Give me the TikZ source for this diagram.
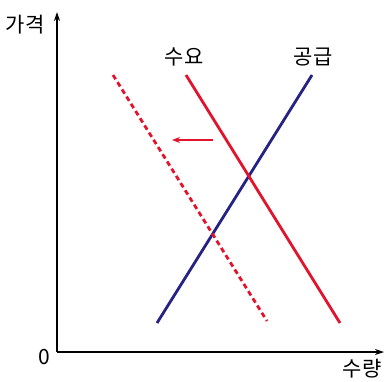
\documentclass[tikz,border=0pt]{standalone}
\usepackage{fontspec}
\setmainfont{Noto Sans CJK KR}
\usepackage{xcolor}
\usetikzlibrary{arrows.meta}
\definecolor{dred}{RGB}{226,20,45}
\definecolor{sblue}{RGB}{36,34,130}
\begin{document}
\begin{tikzpicture}[x=1pt,y=-1pt]
\useasboundingbox (0,0) rectangle (387,381);
\tikzset{axis/.style={line width=1.3pt,-{Stealth[length=9pt,width=6pt]}},
  lbl/.style={font=\fontsize{21}{21}\selectfont,inner sep=0pt}}
% axes
\coordinate (O) at (57,352);
\coordinate (ytop) at (57,12);
\coordinate (xend) at (384,352);
\draw[axis] (O)--(ytop);
\draw[axis] (O)--(xend);
\node[lbl] (price) at (25,25) {가격};
\node[lbl] (zero) at (44,357) {0};
\node[lbl] (qty) at (362,369) {수량};
% curves
\coordinate (d1) at (186,75);
\coordinate (d2) at (340,323);
\coordinate (s1) at (157,323);
\coordinate (s2) at (312,75);
\coordinate (n1) at (113,75);
\coordinate (n2) at (267,321);
\draw[sblue,line width=2.8pt] (s1)--(s2);
\draw[dred,line width=2.8pt] (d1)--(d2);
\draw[dred,line width=2.8pt,dash pattern=on 5pt off 3.5pt] (n1)--(n2);
\node[lbl] (dem) at (184,57) {수요};
\node[lbl] (sup) at (313,57) {공급};
% shift
\coordinate (a1) at (213,140);
\coordinate (a2) at (172,140);
\draw[dred,line width=1.1pt,-{Stealth[length=8pt,width=6pt]}] (a1)--(a2);
\end{tikzpicture}
\end{document}
